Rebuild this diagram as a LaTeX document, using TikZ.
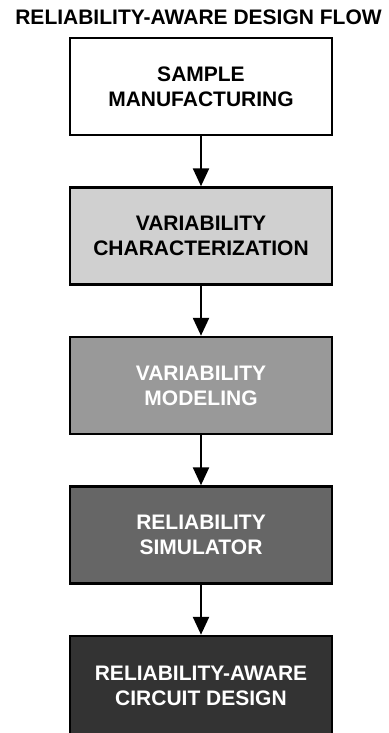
\documentclass[tikz,border=0pt]{standalone}
\usepackage{fontspec}
\setmainfont{Liberation Sans}
\usetikzlibrary{positioning,arrows.meta}
\definecolor{greyA}{HTML}{D0D0D0}
\definecolor{greyB}{HTML}{999999}
\definecolor{greyC}{HTML}{666666}
\definecolor{greyD}{HTML}{333333}
\tikzset{
  stage/.style={draw, line width=2.5pt, minimum width=262pt, minimum height=97pt,
    align=center, font=\bfseries\fontsize{21}{25}\selectfont},
  flow/.style={line width=2.5pt, -{Triangle[length=18pt,width=16pt]}}
}
\begin{document}
\begin{tikzpicture}[x=1pt,y=1pt]
\useasboundingbox (0,0) rectangle (388,-733);
\node [anchor=base, font=\bfseries\fontsize{21}{25}\selectfont] (title) at (198.5,-25) {RELIABILITY-AWARE DESIGN FLOW};
\node [stage] (sample) at (201,-86.5) {SAMPLE\\MANUFACTURING};
\node [stage, fill=greyA, below=50pt of sample] (charac) {VARIABILITY\\CHARACTERIZATION};
\node [stage, fill=greyB, text=white, below=50pt of charac] (model) {VARIABILITY\\MODELING};
\node [stage, fill=greyC, text=white, below=50pt of model] (simul) {RELIABILITY\\SIMULATOR};
% last box runs off the bottom edge
\node [stage, fill=greyD, text=white, minimum height=110pt, text depth=11pt, below=50pt of simul] (circuit) {RELIABILITY-AWARE\\CIRCUIT DESIGN};
\draw [flow] (sample) -- (charac);
\draw [flow] (charac) -- (model);
\draw [flow] (model) -- (simul);
\draw [flow] (simul) -- (circuit);
\end{tikzpicture}
\end{document}
